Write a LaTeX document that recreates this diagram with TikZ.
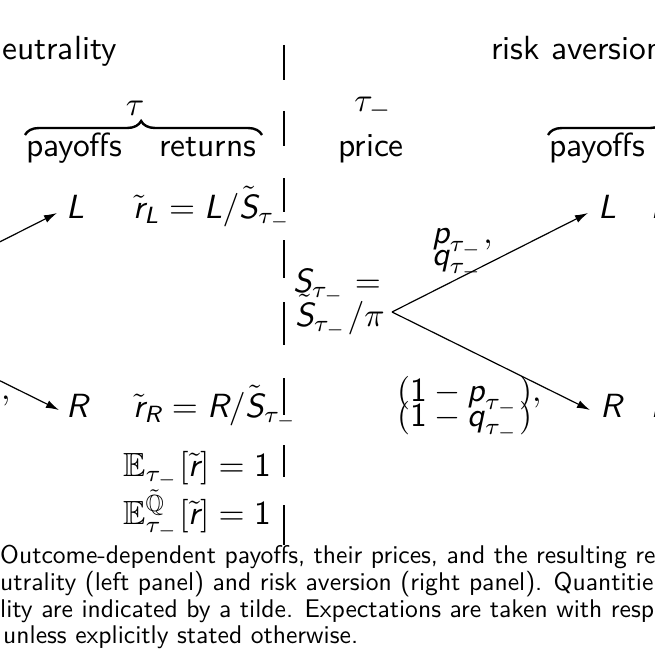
\documentclass[tikz,border=0pt]{standalone}
\usepackage{amsmath,amssymb}
\usepackage{graphicx}
\usetikzlibrary{arrows.meta,decorations.pathreplacing}
\newcommand{\sv}[1]{\text{\sffamily\itshape #1}}
\newcommand{\sn}[1]{\text{\sffamily #1}}
\newcommand{\sz}[1]{\scalebox{3.35}{\sffamily #1}}
\newcommand{\cz}[1]{\scalebox{2.56}{\sffamily #1}}
\begin{document}
\begin{tikzpicture}[x=1pt,y=-1pt,
  lab/.style={inner sep=0pt, anchor=base west},
  divider/.style={line width=1.2pt},
  branch/.style={line width=1.2pt, -{Latex[length=13pt,width=8pt]}},
  bracedeco/.style={decorate, decoration={brace, amplitude=14pt, aspect=0.49}, line width=2.4pt}]
\useasboundingbox (0,0) rectangle (655,655);
\clip (0,0) rectangle (655,655);

% titles
\node[lab] (tl) at (2,60) {\sz{eutrality}};
\node[lab] (tr) at (491,60) {\sz{risk aversion}};

% divider
\foreach \a/\b in {45/80,111/146,178/212,240/278,302/345,378/415,445/477,505/545}
  \draw[divider] (284,\a) -- (284,\b);

% left panel header
\draw[bracedeco] (25,135) -- (262,135);
\node[inner sep=0pt] (tau) at (135,108) {\sz{$\tau$}};
\node[lab] (payl) at (26,157) {\sz{payoffs}};
\node[lab] (ret) at (159,157) {\sz{returns}};

% middle header
\node[inner sep=0pt] (taum) at (373,108) {\sz{$\tau_-$}};
\node[lab] (price) at (338,157) {\sz{price}};

% right panel header
\draw[bracedeco] (548,135) -- (785,135);
\node[lab] (payr) at (549,157) {\sz{payoffs}};

% left panel body
\coordinate (lo) at (-139,312);
\coordinate (ltipL) at (57,213);
\coordinate (ltipR) at (59,410);
\draw[branch] (lo) -- (ltipL);
\draw[branch] (lo) -- (ltipR);
\node[lab] (lcomma) at (1,399) {\sz{$,$}};
\node[lab] (Ll) at (66,218) {\sz{$\sv{L}$}};
\node[lab] (Rl) at (66,417) {\sz{$\sv{R}$}};
\node[lab] (rL) at (133,218) {\sz{$\tilde{\sv{r}}_{\sv{L}} = \sv{L}/\tilde{\sv{S}}_{\tau_-}$}};
\node[lab] (rR) at (133,417) {\sz{$\tilde{\sv{r}}_{\sv{R}} = \sv{R}/\tilde{\sv{S}}_{\tau_-}$}};
\node[lab] (E1) at (123,476) {\sz{$\mathbb{E}_{\tau_-}[\tilde{\sv{r}}] = \sn{1}$}};
\node[lab] (E2) at (123,524) {\sz{$\mathbb{E}^{\tilde{\mathbb{Q}}}_{\tau_-}[\tilde{\sv{r}}] = \sn{1}$}};

% right panel body
\node[lab] (S1) at (293,292) {\sz{$\sv{S}_{\tau_-} =$}};
\node[lab] (S2) at (295,326) {\sz{$\tilde{\sv{S}}_{\tau_-}/\pi$}};
\coordinate (ro) at (392,312);
\coordinate (rtipL) at (588,213);
\coordinate (rtipR) at (590,410);
\draw[branch] (ro) -- (rtipL);
\draw[branch] (ro) -- (rtipR);
\node[lab] (p1) at (432,243) {\sz{$\sv{p}_{\tau_-},$}};
\node[lab] (q1) at (432,265) {\sz{$\sv{q}_{\tau_-}$}};
\node[lab] (p2) at (397,401) {\sz{$(\sn{1} - \sv{p}_{\tau_-}),$}};
\node[lab] (q2) at (397,426) {\sz{$(\sn{1} - \sv{q}_{\tau_-})$}};
\node[lab] (Lr) at (598,218) {\sz{$\sv{L}$}};
\node[lab] (Rr) at (600,417) {\sz{$\sv{R}$}};
\node[lab] (rLr) at (651,218) {\sz{$\sv{r}$}};
\node[lab] (rRr) at (651,417) {\sz{$\sv{r}$}};

% caption
\node[lab] (c1) at (0,563) {\cz{Outcome-dependent payoffs, their prices, and the resulting re}};
\node[lab] (c2) at (0,590) {\cz{utrality (left panel) and risk aversion (right panel). Quantitie}};
\node[lab] (c3) at (0,617) {\cz{lity are indicated by a tilde. Expectations are taken with resp}};
\node[lab] (c4) at (3,643) {\cz{unless explicitly stated otherwise.}};
\end{tikzpicture}
\end{document}
